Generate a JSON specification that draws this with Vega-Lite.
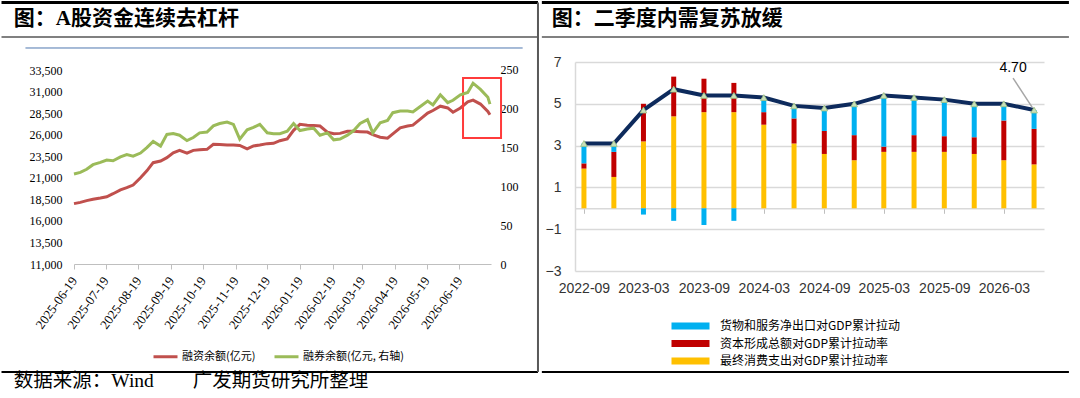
{
  "$schema": "https://vega.github.io/schema/vega-lite/v6.json",
  "padding": 0,
  "background": "white",
  "spacing": 0,
  "resolve": {"scale": {"color": "independent"}},
  "config": {"view": {"stroke": null}, "legend": {"title": null}, "axis": {"labelOverlap": false}},
  "datasets": {
    "lev": [
      {"d": "2025-06-19", "rz": 18000, "rq": 116},
      {"d": "2025-06-25", "rz": 18150, "rq": 118},
      {"d": "2025-07-01", "rz": 18350, "rq": 122},
      {"d": "2025-07-07", "rz": 18500, "rq": 128},
      {"d": "2025-07-14", "rz": 18650, "rq": 131},
      {"d": "2025-07-20", "rz": 18800, "rq": 134},
      {"d": "2025-07-26", "rz": 19150, "rq": 133},
      {"d": "2025-08-02", "rz": 19600, "rq": 138},
      {"d": "2025-08-08", "rz": 19850, "rq": 141},
      {"d": "2025-08-14", "rz": 20160, "rq": 139},
      {"d": "2025-08-21", "rz": 21000, "rq": 143},
      {"d": "2025-08-27", "rz": 21800, "rq": 150},
      {"d": "2025-09-02", "rz": 22750, "rq": 158},
      {"d": "2025-09-09", "rz": 22950, "rq": 152},
      {"d": "2025-09-15", "rz": 23330, "rq": 167},
      {"d": "2025-09-21", "rz": 23900, "rq": 168},
      {"d": "2025-09-27", "rz": 24180, "rq": 166},
      {"d": "2025-10-04", "rz": 23850, "rq": 159},
      {"d": "2025-10-10", "rz": 24180, "rq": 163},
      {"d": "2025-10-16", "rz": 24250, "rq": 169},
      {"d": "2025-10-23", "rz": 24300, "rq": 170},
      {"d": "2025-10-29", "rz": 24880, "rq": 178},
      {"d": "2025-11-04", "rz": 24850, "rq": 181},
      {"d": "2025-11-11", "rz": 24800, "rq": 183},
      {"d": "2025-11-17", "rz": 24800, "rq": 180},
      {"d": "2025-11-23", "rz": 24750, "rq": 161},
      {"d": "2025-11-30", "rz": 24350, "rq": 173},
      {"d": "2025-12-06", "rz": 24690, "rq": 176},
      {"d": "2025-12-12", "rz": 24800, "rq": 180},
      {"d": "2025-12-19", "rz": 24960, "rq": 169},
      {"d": "2025-12-25", "rz": 25000, "rq": 168},
      {"d": "2025-12-31", "rz": 25300, "rq": 168},
      {"d": "2026-01-07", "rz": 25500, "rq": 171},
      {"d": "2026-01-13", "rz": 26500, "rq": 181},
      {"d": "2026-01-19", "rz": 27200, "rq": 172},
      {"d": "2026-01-26", "rz": 27100, "rq": 174},
      {"d": "2026-02-01", "rz": 27050, "rq": 175},
      {"d": "2026-02-07", "rz": 27000, "rq": 166},
      {"d": "2026-02-14", "rz": 26300, "rq": 169},
      {"d": "2026-02-20", "rz": 26100, "rq": 160},
      {"d": "2026-02-26", "rz": 26150, "rq": 161},
      {"d": "2026-03-05", "rz": 26400, "rq": 166},
      {"d": "2026-03-11", "rz": 26400, "rq": 172},
      {"d": "2026-03-17", "rz": 26350, "rq": 181},
      {"d": "2026-03-24", "rz": 26300, "rq": 186},
      {"d": "2026-03-29", "rz": 26000, "rq": 169},
      {"d": "2026-04-05", "rz": 25700, "rq": 182},
      {"d": "2026-04-12", "rz": 25600, "rq": 185},
      {"d": "2026-04-17", "rz": 26100, "rq": 195},
      {"d": "2026-04-24", "rz": 26800, "rq": 197},
      {"d": "2026-05-01", "rz": 27000, "rq": 197},
      {"d": "2026-05-06", "rz": 27100, "rq": 196},
      {"d": "2026-05-13", "rz": 27800, "rq": 203},
      {"d": "2026-05-20", "rz": 28500, "rq": 210},
      {"d": "2026-05-25", "rz": 28800, "rq": 205},
      {"d": "2026-06-01", "rz": 29300, "rq": 218},
      {"d": "2026-06-08", "rz": 29100, "rq": 208},
      {"d": "2026-06-13", "rz": 28600, "rq": 211},
      {"d": "2026-06-20", "rz": 29100, "rq": 218},
      {"d": "2026-06-27", "rz": 29800, "rq": 221},
      {"d": "2026-07-02", "rz": 30000, "rq": 233},
      {"d": "2026-07-09", "rz": 29550, "rq": 225},
      {"d": "2026-07-16", "rz": 28700, "rq": 215},
      {"d": "2026-07-18", "rz": 28300, "rq": 206}
    ],
    "gdp": [
      {"q": "2022-09-01", "g": 3.1},
      {"q": "2022-12-01", "g": 3.1},
      {"q": "2023-03-01", "g": 4.7},
      {"q": "2023-06-01", "g": 5.7},
      {"q": "2023-09-01", "g": 5.4},
      {"q": "2023-12-01", "g": 5.4},
      {"q": "2024-03-01", "g": 5.3},
      {"q": "2024-06-01", "g": 4.9},
      {"q": "2024-09-01", "g": 4.8},
      {"q": "2024-12-01", "g": 5.0},
      {"q": "2025-03-01", "g": 5.4},
      {"q": "2025-06-01", "g": 5.3},
      {"q": "2025-09-01", "g": 5.2},
      {"q": "2025-12-01", "g": 5.0},
      {"q": "2026-03-01", "g": 5.0},
      {"q": "2026-06-01", "g": 4.7}
    ],
    "contrib": [
      {"q": "2022-09-01", "k": 1, "c": "最终消费支出对GDP累计拉动率", "v": 1.9},
      {"q": "2022-09-01", "k": 2, "c": "资本形成总额对GDP累计拉动率", "v": 0.25},
      {"q": "2022-09-01", "k": 3, "c": "货物和服务净出口对GDP累计拉动", "v": 0.95},
      {"q": "2022-12-01", "k": 1, "c": "最终消费支出对GDP累计拉动率", "v": 1.5},
      {"q": "2022-12-01", "k": 2, "c": "资本形成总额对GDP累计拉动率", "v": 1.2},
      {"q": "2022-12-01", "k": 3, "c": "货物和服务净出口对GDP累计拉动", "v": 0.4},
      {"q": "2023-03-01", "k": 1, "c": "最终消费支出对GDP累计拉动率", "v": 3.2},
      {"q": "2023-03-01", "k": 2, "c": "资本形成总额对GDP累计拉动率", "v": 1.8},
      {"q": "2023-03-01", "k": 3, "c": "货物和服务净出口对GDP累计拉动", "v": -0.3},
      {"q": "2023-06-01", "k": 1, "c": "最终消费支出对GDP累计拉动率", "v": 4.4},
      {"q": "2023-06-01", "k": 2, "c": "资本形成总额对GDP累计拉动率", "v": 1.9},
      {"q": "2023-06-01", "k": 3, "c": "货物和服务净出口对GDP累计拉动", "v": -0.6},
      {"q": "2023-09-01", "k": 1, "c": "最终消费支出对GDP累计拉动率", "v": 4.6},
      {"q": "2023-09-01", "k": 2, "c": "资本形成总额对GDP累计拉动率", "v": 1.6},
      {"q": "2023-09-01", "k": 3, "c": "货物和服务净出口对GDP累计拉动", "v": -0.8},
      {"q": "2023-12-01", "k": 1, "c": "最终消费支出对GDP累计拉动率", "v": 4.6},
      {"q": "2023-12-01", "k": 2, "c": "资本形成总额对GDP累计拉动率", "v": 1.4},
      {"q": "2023-12-01", "k": 3, "c": "货物和服务净出口对GDP累计拉动", "v": -0.6},
      {"q": "2024-03-01", "k": 1, "c": "最终消费支出对GDP累计拉动率", "v": 4.0},
      {"q": "2024-03-01", "k": 2, "c": "资本形成总额对GDP累计拉动率", "v": 0.6},
      {"q": "2024-03-01", "k": 3, "c": "货物和服务净出口对GDP累计拉动", "v": 0.7},
      {"q": "2024-06-01", "k": 1, "c": "最终消费支出对GDP累计拉动率", "v": 3.1},
      {"q": "2024-06-01", "k": 2, "c": "资本形成总额对GDP累计拉动率", "v": 1.2},
      {"q": "2024-06-01", "k": 3, "c": "货物和服务净出口对GDP累计拉动", "v": 0.6},
      {"q": "2024-09-01", "k": 1, "c": "最终消费支出对GDP累计拉动率", "v": 2.6},
      {"q": "2024-09-01", "k": 2, "c": "资本形成总额对GDP累计拉动率", "v": 1.1},
      {"q": "2024-09-01", "k": 3, "c": "货物和服务净出口对GDP累计拉动", "v": 1.1},
      {"q": "2024-12-01", "k": 1, "c": "最终消费支出对GDP累计拉动率", "v": 2.3},
      {"q": "2024-12-01", "k": 2, "c": "资本形成总额对GDP累计拉动率", "v": 1.2},
      {"q": "2024-12-01", "k": 3, "c": "货物和服务净出口对GDP累计拉动", "v": 1.5},
      {"q": "2025-03-01", "k": 1, "c": "最终消费支出对GDP累计拉动率", "v": 2.7},
      {"q": "2025-03-01", "k": 2, "c": "资本形成总额对GDP累计拉动率", "v": 0.25},
      {"q": "2025-03-01", "k": 3, "c": "货物和服务净出口对GDP累计拉动", "v": 2.45},
      {"q": "2025-06-01", "k": 1, "c": "最终消费支出对GDP累计拉动率", "v": 2.7},
      {"q": "2025-06-01", "k": 2, "c": "资本形成总额对GDP累计拉动率", "v": 0.8},
      {"q": "2025-06-01", "k": 3, "c": "货物和服务净出口对GDP累计拉动", "v": 1.8},
      {"q": "2025-09-01", "k": 1, "c": "最终消费支出对GDP累计拉动率", "v": 2.7},
      {"q": "2025-09-01", "k": 2, "c": "资本形成总额对GDP累计拉动率", "v": 0.75},
      {"q": "2025-09-01", "k": 3, "c": "货物和服务净出口对GDP累计拉动", "v": 1.75},
      {"q": "2025-12-01", "k": 1, "c": "最终消费支出对GDP累计拉动率", "v": 2.6},
      {"q": "2025-12-01", "k": 2, "c": "资本形成总额对GDP累计拉动率", "v": 0.8},
      {"q": "2025-12-01", "k": 3, "c": "货物和服务净出口对GDP累计拉动", "v": 1.6},
      {"q": "2026-03-01", "k": 1, "c": "最终消费支出对GDP累计拉动率", "v": 2.3},
      {"q": "2026-03-01", "k": 2, "c": "资本形成总额对GDP累计拉动率", "v": 1.9},
      {"q": "2026-03-01", "k": 3, "c": "货物和服务净出口对GDP累计拉动", "v": 0.8},
      {"q": "2026-06-01", "k": 1, "c": "最终消费支出对GDP累计拉动率", "v": 2.1},
      {"q": "2026-06-01", "k": 2, "c": "资本形成总额对GDP累计拉动率", "v": 1.7},
      {"q": "2026-06-01", "k": 3, "c": "货物和服务净出口对GDP累计拉动", "v": 0.9}
    ]
  },
  "hconcat": [
    {
      "width": 417,
      "height": 202,
      "layer": [
        {
          "layer": [
            {
              "data": {"name": "lev"},
              "mark": {"type": "line", "strokeWidth": 3},
              "encoding": {
                "x": {
                  "field": "d", "type": "temporal",
                  "scale": {"domain": [{"year": 2025, "month": 6, "date": 19}, {"year": 2026, "month": 7, "date": 19}], "nice": false},
                  "axis": {
                    "title": null, "grid": false, "format": "%Y-%m-%d", "tickCount": 100,
                    "values": [
                      {"year": 2025, "month": 6, "date": 19}, {"year": 2025, "month": 7, "date": 19}, {"year": 2025, "month": 8, "date": 19},
                      {"year": 2025, "month": 9, "date": 19}, {"year": 2025, "month": 10, "date": 19}, {"year": 2025, "month": 11, "date": 19},
                      {"year": 2025, "month": 12, "date": 19}, {"year": 2026, "month": 1, "date": 19}, {"year": 2026, "month": 2, "date": 19},
                      {"year": 2026, "month": 3, "date": 19}, {"year": 2026, "month": 4, "date": 19}, {"year": 2026, "month": 5, "date": 19},
                      {"year": 2026, "month": 6, "date": 19}
                    ],
                    "labelAngle": -54, "labelFont": "Liberation Serif", "labelFontSize": 13, "labelColor": "#000000",
                    "labelPadding": 9, "labelFlush": false, "labelOverlap": false,
                    "domainColor": "#bfbfbf", "domainWidth": 1, "tickColor": "#bfbfbf", "tickSize": 5
                  }
                },
                "y": {
                  "field": "rz", "type": "quantitative",
                  "scale": {"domain": [11000, 34428], "nice": false, "zero": false},
                  "axis": {
                    "title": null, "grid": false, "domain": false, "ticks": false, "tickSize": 0, "tickCount": 100,
                    "values": [11000, 13500, 16000, 18500, 21000, 23500, 26000, 28500, 31000, 33500],
                    "format": ",d", "labelPadding": 12, "labelFont": "Liberation Serif", "labelFontSize": 12, "labelColor": "#000000",
                    "labelOverlap": false
                  }
                },
                "color": {
                  "datum": "融资余额(亿元)", "type": "nominal",
                  "scale": {"domain": ["融资余额(亿元)", "融券余额(亿元, 右轴)"], "range": ["#c0504d", "#9bbb59"]},
                  "legend": {
                    "orient": "none", "legendX": 78, "legendY": 281, "direction": "horizontal",
                    "symbolType": "stroke", "symbolSize": 576, "symbolStrokeWidth": 3,
                    "labelFont": "Noto Sans CJK SC", "labelFontSize": 11, "labelColor": "#000000",
                    "columnPadding": 12, "labelOffset": 3, "title": null
                  }
                }
              }
            },
            {
              "data": {"values": [{}]},
              "mark": {"type": "rule", "color": "#000000", "strokeWidth": 3},
              "encoding": {
                "x": {"datum": {"year": 2025, "month": 4, "date": 11, "hours": 8}, "type": "temporal"},
                "x2": {"datum": {"year": 2026, "month": 9, "date": 1, "hours": 12}},
                "y": {"datum": 41329, "type": "quantitative"}
              }
            },
            {
              "data": {"values": [{}]},
              "mark": {"type": "rule", "color": "#808080", "strokeWidth": 2},
              "encoding": {
                "x": {"datum": {"year": 2025, "month": 4, "date": 11, "hours": 8}, "type": "temporal"},
                "x2": {"datum": {"year": 2026, "month": 9, "date": 1, "hours": 12}},
                "y": {"datum": 37327, "type": "quantitative"}
              }
            },
            {
              "data": {"values": [{}]},
              "mark": {"type": "rule", "color": "#4f77b0", "strokeWidth": 1},
              "encoding": {
                "x": {"datum": {"year": 2025, "month": 5, "date": 4}, "type": "temporal"},
                "x2": {"datum": {"year": 2026, "month": 8, "date": 18}},
                "y": {"datum": 36052, "type": "quantitative"}
              }
            },
            {
              "data": {"values": [{}]},
              "mark": {"type": "rule", "color": "#000000", "strokeWidth": 2},
              "encoding": {
                "x": {"datum": {"year": 2025, "month": 4, "date": 11, "hours": 8}, "type": "temporal"},
                "x2": {"datum": {"year": 2026, "month": 9, "date": 1, "hours": 12}},
                "y": {"datum": -1526, "type": "quantitative"}
              }
            },
            {
              "data": {"values": [{}]},
              "mark": {"type": "rule", "color": "#595959", "strokeWidth": 2},
              "encoding": {
                "x": {"datum": {"year": 2026, "month": 9, "date": 1, "hours": 12}, "type": "temporal"},
                "y": {"datum": 41329, "type": "quantitative"},
                "y2": {"datum": -1526}
              }
            },
            {
              "data": {"values": [{}]},
              "mark": {"type": "rect", "fill": "#ffffff", "fillOpacity": 0, "stroke": "#ff3b3b", "strokeWidth": 2},
              "encoding": {
                "x": {"datum": {"year": 2026, "month": 6, "date": 22, "hours": 12}, "type": "temporal"},
                "x2": {"datum": {"year": 2026, "month": 7, "date": 28, "hours": 12}},
                "y": {"datum": 32572, "type": "quantitative"},
                "y2": {"datum": 25613}
              }
            },
            {
              "data": {"values": [{}]},
              "mark": {"type": "text", "align": "left", "baseline": "middle", "font": "Liberation Serif, Noto Sans CJK SC", "fontSize": 21, "fontWeight": "bold", "color": "#000000"},
              "encoding": {
                "x": {"datum": {"year": 2025, "month": 4, "date": 23}, "type": "temporal"},
                "y": {"datum": 39415, "type": "quantitative"},
                "text": {"value": "图：A股资金连续去杠杆"}
              }
            },
            {
              "data": {"values": [{}]},
              "mark": {"type": "text", "align": "left", "baseline": "middle", "font": "Liberation Serif, Noto Sans CJK SC", "fontSize": 19.5, "color": "#000000"},
              "encoding": {
                "x": {"datum": {"year": 2025, "month": 4, "date": 23}, "type": "temporal"},
                "y": {"datum": -2570, "type": "quantitative"},
                "text": {"value": "数据来源：Wind　　广发期货研究所整理"}
              }
            }
          ]
        },
        {
          "data": {"name": "lev"},
          "mark": {"type": "line", "strokeWidth": 3},
          "encoding": {
            "x": {"field": "d", "type": "temporal"},
            "y": {
              "field": "rq", "type": "quantitative",
              "scale": {"domain": [0, 260.3], "nice": false},
              "axis": {
                "orient": "right", "title": null, "grid": false, "domain": false, "ticks": false, "tickSize": 0, "tickCount": 100,
                "values": [0, 50, 100, 150, 200, 250], "format": "d",
                "labelPadding": 9, "labelFont": "Liberation Serif", "labelFontSize": 12, "labelColor": "#000000"
              }
            },
            "color": {"datum": "融券余额(亿元, 右轴)", "type": "nominal"}
          }
        }
      ],
      "resolve": {"scale": {"y": "independent"}}
    },
    {
      "width": 469,
      "height": 209,
      "layer": [
        {
          "data": {"name": "contrib"},
          "mark": {"type": "bar", "size": 5},
          "encoding": {
            "x": {
              "field": "q", "type": "temporal",
              "scale": {"domain": [{"year": 2022, "month": 8, "date": 20}, {"year": 2026, "month": 6, "date": 16}], "nice": false},
              "axis": {
                "title": null, "grid": false, "format": "%Y-%m", "tickCount": 100,
                "values": [
                  {"year": 2022, "month": 9, "date": 1}, {"year": 2023, "month": 3, "date": 1}, {"year": 2023, "month": 9, "date": 1},
                  {"year": 2024, "month": 3, "date": 1}, {"year": 2024, "month": 9, "date": 1}, {"year": 2025, "month": 3, "date": 1},
                  {"year": 2025, "month": 9, "date": 1}, {"year": 2026, "month": 3, "date": 1}
                ],
                "offset": -62.7, "domainColor": "#d9d9d9", "domainWidth": 1.5, "tickColor": "#bfbfbf", "tickSize": 5,
                "labelPadding": 68, "labelFont": "Liberation Sans", "labelFontSize": 14, "labelColor": "#333333",
                "labelFlush": false, "labelOverlap": false
              }
            },
            "y": {
              "field": "v", "type": "quantitative", "stack": "zero",
              "scale": {"domain": [-3, 7], "nice": false, "zero": false},
              "axis": {
                "title": null, "values": [-3, -1, 1, 3, 5, 7], "format": "d", "tickCount": 100, "grid": true, "gridColor": "#d9d9d9", "gridWidth": 1.5,
                "domain": true, "domainColor": "#d9d9d9", "domainWidth": 1.5, "ticks": false, "tickSize": 0,
                "labelPadding": 14, "labelFont": "Liberation Sans", "labelFontSize": 14, "labelColor": "#333333"
              }
            },
            "order": {"field": "k", "type": "quantitative", "sort": "ascending"},
            "color": {
              "field": "c", "type": "nominal",
              "scale": {
                "domain": ["货物和服务净出口对GDP累计拉动", "资本形成总额对GDP累计拉动率", "最终消费支出对GDP累计拉动率"],
                "range": ["#00b0f0", "#c00000", "#ffc000"]
              },
              "legend": {
                "orient": "none", "legendX": 109.5, "legendY": 258, "direction": "vertical",
                "values": ["货物和服务净出口对GDP累计拉动", "资本形成总额对GDP累计拉动率", "最终消费支出对GDP累计拉动率"],
                "symbolType": "M-5.43,-1L5.43,-1L5.43,1L-5.43,1Z", "symbolSize": 49, "symbolStrokeWidth": 0,
                "labelFont": "Noto Sans CJK SC", "labelFontSize": 12, "labelColor": "#000000", "labelLimit": 400,
                "rowPadding": 5.5, "labelOffset": 23.5, "title": null
              }
            }
          }
        },
        {
          "data": {"name": "gdp"},
          "mark": {"type": "line", "color": "#0d2a5c", "strokeWidth": 4},
          "encoding": {
            "x": {"field": "q", "type": "temporal"},
            "y": {"field": "g", "type": "quantitative"}
          }
        },
        {
          "data": {"name": "gdp"},
          "mark": {"type": "point", "shape": "triangle-up", "filled": true, "size": 45, "fill": "#c9e0b8", "stroke": "#9fc283", "strokeWidth": 0.8, "opacity": 1},
          "encoding": {
            "x": {"field": "q", "type": "temporal"},
            "y": {"field": "g", "type": "quantitative"}
          }
        },
        {
          "data": {"name": "gdp"},
          "transform": [{"filter": {"field": "q", "timeUnit": "yearmonth", "equal": {"year": 2026, "month": 6}}}],
          "mark": {"type": "rule", "color": "#a6a6a6", "strokeWidth": 1.5, "xOffset": -21, "yOffset": -32, "x2Offset": -2, "y2Offset": -3},
          "encoding": {
            "x": {"field": "q", "type": "temporal"},
            "x2": {"field": "q"},
            "y": {"field": "g", "type": "quantitative"},
            "y2": {"field": "g"}
          }
        },
        {
          "data": {"name": "gdp"},
          "transform": [{"filter": {"field": "q", "timeUnit": "yearmonth", "equal": {"year": 2026, "month": 6}}}],
          "mark": {"type": "text", "dx": -21, "dy": -42, "font": "Liberation Sans", "fontSize": 14, "color": "#000000"},
          "encoding": {
            "x": {"field": "q", "type": "temporal"},
            "y": {"field": "g", "type": "quantitative"},
            "text": {"field": "g", "type": "quantitative", "format": ".2f"}
          }
        },
        {
          "data": {"values": [{}]},
          "mark": {"type": "rule", "color": "#000000", "strokeWidth": 3},
          "encoding": {
            "x": {"datum": {"year": 2022, "month": 4, "date": 26}, "type": "temporal"},
            "x2": {"datum": {"year": 2026, "month": 9, "date": 15}},
            "y": {"datum": 9.847, "type": "quantitative"}
          }
        },
        {
          "data": {"values": [{}]},
          "mark": {"type": "rule", "color": "#808080", "strokeWidth": 2},
          "encoding": {
            "x": {"datum": {"year": 2022, "month": 4, "date": 26}, "type": "temporal"},
            "x2": {"datum": {"year": 2026, "month": 9, "date": 15}},
            "y": {"datum": 8.196, "type": "quantitative"}
          }
        },
        {
          "data": {"values": [{}]},
          "mark": {"type": "rule", "color": "#000000", "strokeWidth": 2},
          "encoding": {
            "x": {"datum": {"year": 2022, "month": 4, "date": 26}, "type": "temporal"},
            "x2": {"datum": {"year": 2026, "month": 9, "date": 15}},
            "y": {"datum": -7.833, "type": "quantitative"}
          }
        },
        {
          "data": {"values": [{}]},
          "mark": {"type": "text", "align": "left", "baseline": "middle", "font": "Liberation Serif, Noto Sans CJK SC", "fontSize": 21, "fontWeight": "bold", "color": "#000000"},
          "encoding": {
            "x": {"datum": {"year": 2022, "month": 5, "date": 26}, "type": "temporal"},
            "y": {"datum": 9.057, "type": "quantitative"},
            "text": {"value": "图：二季度内需复苏放缓"}
          }
        }
      ]
    }
  ]
}
